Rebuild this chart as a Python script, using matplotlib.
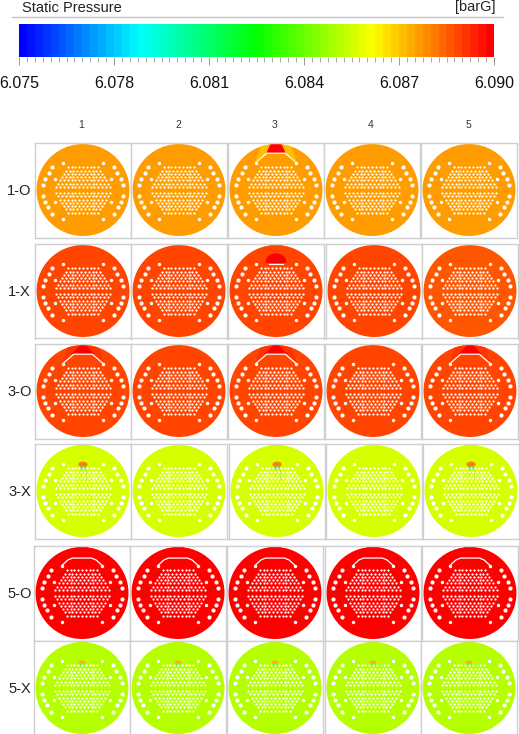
import numpy as np
import matplotlib
matplotlib.use("Agg")
import matplotlib.pyplot as plt
from matplotlib.colors import LinearSegmentedColormap, Normalize
from matplotlib.patches import Circle, Polygon, Rectangle, Ellipse
from matplotlib.lines import Line2D

plt.rcParams['font.family'] = ['Liberation Sans', 'DejaVu Sans']

# ---- data ----
title_left = "Static Pressure"
title_right = "[barG]"
scale_min = 6.075
scale_max = 6.090
scale_ticks = [6.075, 6.078, 6.081, 6.084, 6.087, 6.090]
column_labels = ["1", "2", "3", "4", "5"]
row_labels = ["1-O", "1-X", "3-O", "3-X", "5-O", "5-X"]
# pressure of each case (row) and position (column)
p_1o = [6.0876, 6.0876, 6.0876, 6.0876, 6.0876]
p_1x = [6.0888, 6.0888, 6.0888, 6.0888, 6.0887]
p_3o = [6.0888, 6.0888, 6.0888, 6.0888, 6.0888]
p_3x = [6.0856, 6.0856, 6.0856, 6.0856, 6.0856]
p_5o = [6.0899, 6.0899, 6.0899, 6.0899, 6.0899]
p_5x = [6.0850, 6.0850, 6.0850, 6.0850, 6.0850]
pressures = [p_1o, p_1x, p_3o, p_3x, p_5o, p_5x]
# local feature at the inlet per panel
f_1o = ["", "", "wedge", "", ""]
f_1x = ["", "", "dome", "", ""]
f_3o = ["tri", "", "tri", "", "tri"]
f_3x = ["spot", "", "spot", "", "spot"]
f_5o = ["arc", "arc", "arc", "arc", "arc"]
f_5x = ["tiny", "tiny", "tiny", "tiny", "tiny"]
features = [f_1o, f_1x, f_3o, f_3x, f_5o, f_5x]

# ---- layout (pixels) ----
W, H = 519, 734
col_x = [[83, 179, 276, 372, 469],
         [83, 179, 276, 374, 470],
         [83, 179, 276, 373, 470],
         [83, 179, 277, 374, 471],
         [82, 178, 275, 373, 470],
         [82, 178, 275, 373, 469]]
row_y = [190, 291, 391, 491, 593, 688]
R_px = 46.0
FRAME = 47.5

fig = plt.figure(figsize=(W / 100, H / 100), dpi=100, facecolor="white")

def px_axes(x0, y0, x1, y1, **kw):
    return fig.add_axes([x0 / W, 1 - y1 / H, (x1 - x0) / W, (y1 - y0) / H], **kw)

cmap_base = LinearSegmentedColormap.from_list(
    "ansys", ["#0000ff", "#00ffff", "#00ff00", "#ffff00", "#ff0000"])
cmap = cmap_base.resampled(60)
norm = Normalize(scale_min, scale_max)
col = lambda v: cmap(norm(v))

# ---- header ----
fig.text(22 / W, 1 - 7.5 / H, title_left, fontsize=10.5, color="#222222", va="center", ha="left")
fig.text(495 / W, 1 - 7.5 / H, title_right, fontsize=10.5, color="#222222", va="center", ha="right")
fig.add_artist(Line2D([12 / W, 503 / W], [1 - 17 / H, 1 - 17 / H], color="#c4c4c4", lw=1))

# ---- colour scale ----
cax = px_axes(19, 24, 494, 57)
cax.imshow(np.linspace(scale_min, scale_max, 60)[None, :], cmap=cmap, norm=norm, aspect="auto",
           extent=[scale_min, scale_max, 0, 1], interpolation="nearest")
cax.set_yticks([])
for s in cax.spines.values():
    s.set_visible(False)
cax.set_xticks(scale_ticks)
cax.set_xticklabels([f"{t:.3f}" for t in scale_ticks], fontsize=11.5, color="#111111")
cax.set_xticks(np.arange(scale_min, scale_max + 1e-6, 0.00025), minor=True)
cax.tick_params(axis="x", which="major", length=6, width=0.7, color="#999999", pad=8)
cax.tick_params(axis="x", which="minor", length=3.5, width=0.7, color="#aaaaaa")

# ---- hole pattern (unit disc) ----
big = np.array([(.67, .51), (.74, .38), (.81, .25), (.855, .11),
                (.855, -.12), (.81, -.25), (.76, -.38), (.67, -.53)])
small = np.array([(.61, .25), (.61, -.25), (.43, .59), (.43, -.62)])
pitch_x, pitch_y = 0.082, 0.07
field = []
for half in (1, -1):
    for i in range(7):
        y = half * (0.07 + i * pitch_y)
        hw = min(0.585, np.sqrt(max(0.6 ** 2 - y ** 2, 0)))
        off = 0 if i % 2 == 0 else pitch_x / 2
        xs = np.arange(-8, 9) * pitch_x + off
        for x in xs[np.abs(xs) <= hw]:
            field.append((x, y))
field = np.array(field)

def add_clipped(ax, patch, disc):
    ax.add_patch(patch)
    patch.set_clip_path(disc)

def draw_panel(ax, value, feature, has_nub):
    lim = FRAME / R_px
    ax.set_xlim(-lim, lim)
    ax.set_ylim(-lim, lim)
    ax.set_xticks([])
    ax.set_yticks([])
    for s in ax.spines.values():
        s.set_color("#cfcfcf")
        s.set_linewidth(1.0)
    base = col(value)
    if has_nub:
        ax.add_patch(Rectangle((-.12, .95), .24, .075, color=col(value - 0.0004), lw=0, clip_on=False))
    disc = Circle((0, 0), 1, facecolor=base, edgecolor="none")
    ax.add_patch(disc)
    if feature == "wedge":
        add_clipped(ax, Polygon([(-.45, .6), (-.3, 1.05), (.3, 1.05), (.45, .6), (.2, .8), (-.2, .8)],
                                color=col(value - 0.0004), lw=0), disc)
        add_clipped(ax, Polygon([(-.21, .8), (-.11, 1.02), (.11, 1.02), (.21, .8)],
                                color=col(6.0899), lw=0), disc)
        ax.plot([-.43, -.2, .2, .43], [.6, .8, .8, .6], color="white", lw=0.9)
        ax.plot([-.43, -.33], [.6, .69], color="#e9f050", lw=1.1)
        ax.plot([.43, .33], [.6, .69], color="#e9f050", lw=1.1)
    elif feature == "tri":
        add_clipped(ax, Polygon([(-.45, .6), (-.3, 1.05), (.3, 1.05), (.45, .6), (.2, .8), (-.2, .8)],
                                color=col(value + 0.0002), lw=0), disc)
        add_clipped(ax, Polygon([(-.25, .8), (-.04, 1.02), (.04, 1.02), (.25, .8)],
                                color=col(6.0899), lw=0), disc)
        ax.plot([-.43, -.2, .2, .43], [.6, .8, .8, .6], color="white", lw=0.9)
    elif feature == "dome":
        ax.add_patch(Ellipse((0, .64), .44, .36, color=col(6.0899), lw=0))
        ax.add_patch(Rectangle((-.3, .46), .6, .14, color=base, lw=0))
        ax.plot([-.15, .15], [.58, .58], color="white", lw=0.8)
    elif feature == "arc":
        ax.plot([-.43, -.3, -.2, .2, .3, .43], [.6, .72, .76, .76, .72, .6], color="white", lw=0.9)
    elif feature == "spot":
        ax.add_patch(Ellipse((0, .58), .2, .12, color="#ff8000", lw=0))
        ax.add_patch(Ellipse((0, .5), .14, .08, color="#50e090", lw=0))
        ax.plot([-.04, -.04], [.25, .46], color="#ffa040", lw=0.6, alpha=.6)
        ax.plot([.06, .06], [.25, .46], color="#80c040", lw=0.6, alpha=.6)
    elif feature == "tiny":
        ax.add_patch(Ellipse((0, .56), .16, .07, color="#ffb000", lw=0))
        ax.add_patch(Ellipse((0, .5), .12, .04, color="#50e090", lw=0))
    ax.scatter(field[:, 0], field[:, 1], s=2.6, color="white", lw=0, zorder=3)
    for pts, size in ((big, 9), (small, 6)):
        for sign in (-1, 1):
            ax.scatter(sign * pts[:, 0], pts[:, 1], s=size, color="white", lw=0, zorder=3)

nub_rows = {1: {2}, 3: {0, 2, 4}, 4: {0, 1, 2, 3, 4}, 5: {0, 1, 2, 3, 4}}
for r, (vals, feats) in enumerate(zip(pressures, features)):
    cy = row_y[r]
    for c, (v, f) in enumerate(zip(vals, feats)):
        cx = col_x[r][c]
        ax = px_axes(cx - FRAME - 0.5, cy - FRAME, cx + FRAME + 0.5, cy + FRAME)
        draw_panel(ax, v, f, c in nub_rows.get(r, set()))
    fig.text(19.5 / W, 1 - (cy + 1) / H, row_labels[r], fontsize=10.5, color="#222222", ha="center", va="center")

for x, lab in zip([81, 178, 275, 371, 468], column_labels):
    fig.text(x / W, 1 - 125 / H, lab, fontsize=7.5, color="#333333", ha="center", va="center")

fig.savefig("out.png", dpi=100)
